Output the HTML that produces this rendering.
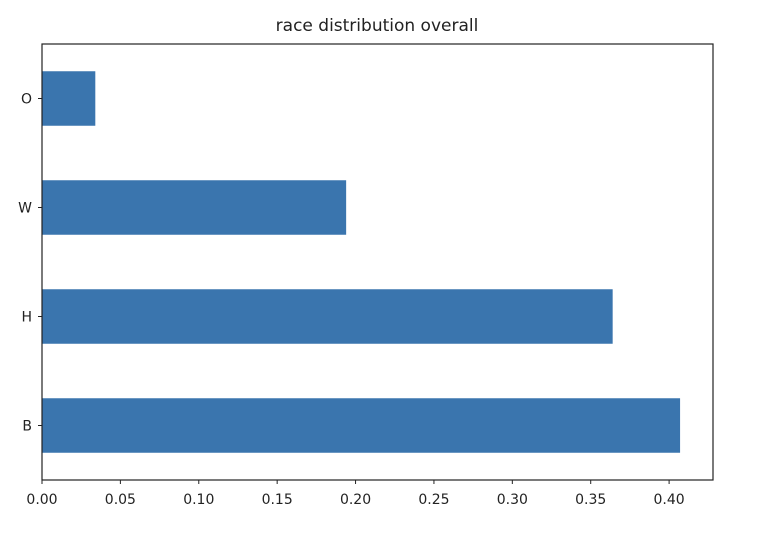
<!DOCTYPE html>
<html><head><meta charset="utf-8"><style>
body{margin:0;background:#fff;}
svg{display:block;font-family:"DejaVu Sans","Liberation Sans",sans-serif;}
</style></head><body>
<svg id="chart" width="762" height="538">
<text x="377" y="31" font-size="17" text-anchor="middle" fill="#222">race distribution overall</text>
<g id="bars"></g>
<g id="axes"></g>
</svg>
<script>
const categories = ["B","H","W","O"];
const values = [0.407,0.364,0.194,0.034];
const xTicks = [0,0.05,0.1,0.15,0.2,0.25,0.3,0.35,0.4];
const xTickLabels = ["0.00","0.05","0.10","0.15","0.20","0.25","0.30","0.35","0.40"];

const L=42,R=713,T=44,B=480,XMAX=0.428;
const ns="http://www.w3.org/2000/svg";
function xs(v){return L+v/XMAX*(R-L);}
function ys(i){const step=(B-T)/categories.length;return B-step*(i+0.5);}
const bars=document.getElementById('bars'),axes=document.getElementById('axes');
function mk(tag,attrs,parent){const e=document.createElementNS(ns,tag);for(const k in attrs)e.setAttribute(k,attrs[k]);parent.appendChild(e);return e;}
const step=(B-T)/categories.length;
categories.forEach((c,i)=>{
  const r=mk('rect',{x:L,y:ys(i)-step/4,width:xs(values[i])-L,height:step/2,fill:'#3a75ae'},bars);
  
  
  const t=mk('line',{x1:L-4,x2:L,y1:ys(i),y2:ys(i),stroke:'#222','stroke-width':1},axes);
  
  
  const l=mk('text',{x:L-10,y:ys(i)+5,'font-size':14,'text-anchor':'end',fill:'#222'},axes);
  l.textContent=c;
  
  
});
xTicks.forEach((v,i)=>{
  const t=mk('line',{x1:xs(v),x2:xs(v),y1:B,y2:B+4,stroke:'#222','stroke-width':1},axes);
  
  
  const l=mk('text',{x:xs(v),y:B+24,'font-size':14,'text-anchor':'middle',fill:'#222'},axes);
  l.textContent=xTickLabels[i];
  
  
});
const f=mk('rect',{x:L,y:T,width:R-L,height:B-T,fill:'none',stroke:'#222','stroke-width':1.2},axes);


</script>
</body></html>
